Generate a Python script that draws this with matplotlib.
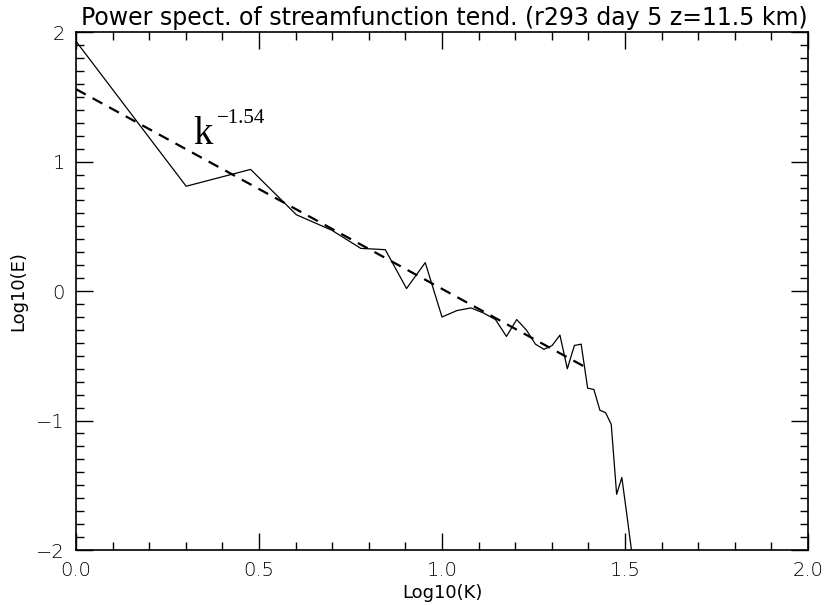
import numpy as np
import matplotlib
matplotlib.use('Agg')
import matplotlib.pyplot as plt
from matplotlib.ticker import MultipleLocator, FuncFormatter

# wavenumbers and spectrum (log10 E)
K = [1, 2, 3, 4, 5, 6, 7, 8, 9, 10, 11, 12, 13, 14, 15, 16, 17,
     18, 19, 20, 21, 22, 23, 24, 25, 26, 27, 28, 29, 30, 31, 32, 33]
logE = [1.93, 0.81, 0.94, 0.59, 0.47, 0.33, 0.32, 0.02, 0.22, -0.20,
        -0.15, -0.13, -0.17, -0.22, -0.35, -0.22, -0.30, -0.41, -0.45,
        -0.42, -0.34, -0.60, -0.42, -0.41, -0.75, -0.76, -0.92, -0.94,
        -1.03, -1.57, -1.44, -1.73, -2.02]

# power law fit endpoints
fit_x = [0.0, 1.40]
fit_y = [1.56, -0.60]

title = 'Power spect. of streamfunction tend. (r293 day 5 z=11.5 km)'

plt.rcParams['font.family'] = 'DejaVu Sans'
plt.rcParams['font.weight'] = 'light'

fig = plt.figure(figsize=(8.24, 6.05), dpi=100)
ax = fig.add_axes([0.0922, 0.0909, 0.8884, 0.8559])

ax.plot(np.log10(K), logE, color='black', lw=0.9)
ax.plot(fit_x, fit_y, color='black', lw=1.6, dashes=(5, 3.5))

ax.text(0.32, 1.14, 'k', family='Liberation Serif', fontsize=28, weight='normal')
ax.text(0.385, 1.30, '\u22121.54', family='Liberation Serif', fontsize=15,
        weight='normal')

ax.set_xlim(0, 2)
ax.set_ylim(-2, 2)
ax.xaxis.set_major_locator(MultipleLocator(0.5))
ax.xaxis.set_minor_locator(MultipleLocator(0.1))
ax.yaxis.set_major_locator(MultipleLocator(1))
ax.yaxis.set_minor_locator(MultipleLocator(0.1))
ax.xaxis.set_major_formatter(FuncFormatter(lambda v, p: '%.1f' % v))
ax.yaxis.set_major_formatter(FuncFormatter(lambda v, p: ('%d' % round(v)).replace('-', '\u2212')))

ax.tick_params(which='both', direction='in', top=True, right=True,
               labelsize=14, width=1.0, pad=8, labelcolor='black')
ax.tick_params(which='major', length=12)
ax.tick_params(which='minor', length=6)
for s in ax.spines.values():
    s.set_linewidth(1.2)

ax.set_xlabel('Log10(K)', fontsize=13, labelpad=3)
ax.set_ylabel('Log10(E)', fontsize=13)
ax.yaxis.set_label_coords(-0.066, 0.5)
ax.set_title(title, fontsize=17, pad=5, loc='right')

fig.savefig('out.png', dpi=100)
